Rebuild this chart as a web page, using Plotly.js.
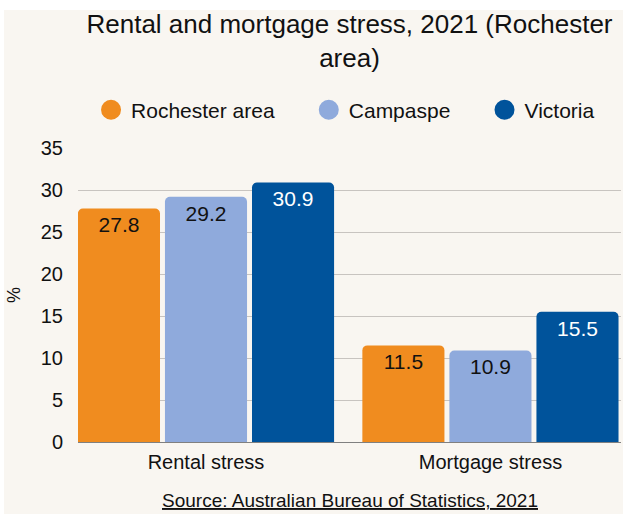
<!DOCTYPE html>
<html><head><meta charset="utf-8">
<script src="https://cdn.plot.ly/plotly-3.0.1.min.js"></script>
<style>html,body{margin:0;padding:0;background:#fff;} #chart{position:absolute;left:4px;top:10px;width:619px;height:504px;}</style>
</head><body><div id="chart"></div>
<script>
const categories = ['Rental stress', 'Mortgage stress'];
const seriesNames = ['Rochester area', 'Campaspe', 'Victoria'];
const rochester = [27.8, 11.5];
const campaspe = [29.2, 10.9];
const victoria = [30.9, 15.5];
const yTicks = [0, 5, 10, 15, 20, 25, 30, 35];
const titleText = 'Rental and mortgage stress, 2021 (Rochester<br>area)';
const sourceText = 'Source: Australian Bureau of Statistics, 2021';

const colors = ['#F08C1F', '#8FAADC', '#00539B'];
const labelColors = ['#111111', '#111111', '#ffffff'];
const values = [rochester, campaspe, victoria];
const font = 'Liberation Sans, Arial, sans-serif';

const traces = [];
values.forEach((v, i) => {
  traces.push({
    type: 'bar', x: categories, y: v, name: seriesNames[i], showlegend: false,
    marker: {color: colors[i], cornerradius: 5},
    text: v.map(d => d.toFixed(1)), textposition: 'inside', insidetextanchor: 'end',
    textangle: 0, textfont: {family: font, size: 21, color: labelColors[i]},
    hoverinfo: 'skip'
  });
});
seriesNames.forEach((n, i) => {
  traces.push({
    type: 'scatter', mode: 'markers', x: [null], y: [null],
    name: n + '\u00a0'.repeat(5), showlegend: true,
    marker: {symbol: 'circle', size: 16, color: colors[i], line: {color: colors[i], width: 4}},
    hoverinfo: 'skip'
  });
});

const layout = {
  width: 619, height: 504,
  paper_bgcolor: '#F9F6F1', plot_bgcolor: '#F9F6F1',
  margin: {l: 74, r: 2, t: 138, b: 72, autoexpand: false},
  font: {family: font, color: '#111111'},
  title: {text: titleText, font: {size: 26, color: '#111111'}, x: 0.5, xref: 'paper', xanchor: 'center', y: 0.954, yref: 'container', yanchor: 'top'},
  barmode: 'group', bargap: 0.082, bargroupgap: 0.057,
  xaxis: {type: 'category', range: [-0.450, 1.459], tickfont: {size: 20}, showgrid: false, zeroline: false, showline: false, ticks: '', ticklabelstandoff: 6, fixedrange: true},
  yaxis: {range: [0, 35], tickvals: yTicks, tickfont: {size: 20}, gridcolor: '#C8C4C0', gridwidth: 1, zeroline: true, zerolinecolor: '#808080', zerolinewidth: 1, showline: false, ticks: '', ticklabelstandoff: 14, title: {text: '%', font: {size: 18}, standoff: 18}, fixedrange: true},
  legend: {orientation: 'h', x: 0.024, xanchor: 'left', y: 1.129, yanchor: 'middle', font: {size: 21}, bgcolor: 'rgba(0,0,0,0)'},
  annotations: [{text: '<u>' + sourceText + '</u>', xref: 'paper', yref: 'paper', x: 0.5, xanchor: 'center', y: -0.2, yanchor: 'middle', showarrow: false, font: {size: 19, color: '#111111'}}]
};
Plotly.newPlot('chart', traces, layout, {displayModeBar: false, staticPlot: true});
</script></body></html>
